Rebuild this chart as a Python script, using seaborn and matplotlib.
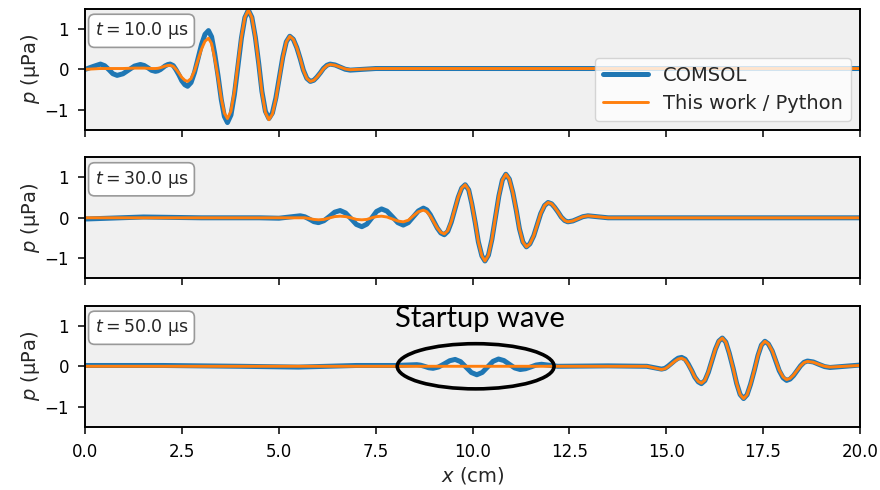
import matplotlib
matplotlib.use("Agg")
import matplotlib.pyplot as plt
import numpy as np
import pandas as pd
import seaborn as sns
from matplotlib.patches import Ellipse

# ---------------- data ----------------
times_us = [10.0, 30.0, 50.0]
series_names = ["COMSOL", "This work / Python"]

x_t10 = [0.0, 0.20, 0.39, 0.50, 0.61, 0.71, 0.82, 0.97, 1.12, 1.27, 1.42, 1.52, 1.62, 1.71, 1.81,
         1.87, 1.94, 2.00, 2.06, 2.13, 2.19,
         2.27, 2.34, 2.42, 2.49, 2.57, 2.64,
         2.73, 2.82, 2.91, 3.00, 3.09, 3.18,
         3.26, 3.34, 3.43, 3.51, 3.59, 3.67,
         3.76, 3.85, 3.94, 4.03, 4.12, 4.21,
         4.30, 4.39, 4.48, 4.56, 4.65, 4.74,
         4.83, 4.92, 5.01, 5.10, 5.19, 5.28,
         5.37, 5.46, 5.55, 5.63, 5.72, 5.81,
         5.90, 5.98, 6.07, 6.15, 6.24, 6.32,
         6.45, 6.58, 6.71, 6.84, 7.5, 20.0]
comsol_t10 = [0.00, 0.07, 0.13, 0.089, -0.01, -0.109, -0.15, -0.111, -0.015, 0.081, 0.12, 0.095, 0.035, -0.025, -0.05,
              -0.038, -0.005, 0.04, 0.085, 0.118, 0.13,
              0.093, -0.008, -0.145, -0.283, -0.383, -0.42,
              -0.328, -0.075, 0.27, 0.615, 0.868, 0.96,
              0.807, 0.39, -0.18, -0.75, -1.167, -1.32,
              -1.133, -0.623, 0.075, 0.773, 1.283, 1.47,
              1.29, 0.798, 0.125, -0.548, -1.04, -1.22,
              -1.083, -0.71, -0.20, 0.31, 0.683, 0.82,
              0.745, 0.54, 0.26, -0.02, -0.225, -0.30,
              -0.271, -0.193, -0.085, 0.023, 0.101, 0.13,
              0.108, 0.055, 0.002, -0.02, 0.02, 0.02]
python_t10 = [0.00, 0.01, 0.02, 0.02, 0.02, 0.02, 0.02, 0.02, 0.025, 0.03, 0.03, 0.03, 0.025, 0.02, 0.02,
              0.025, 0.04, 0.06, 0.08, 0.095, 0.10,
              0.073, 0.0, -0.10, -0.20, -0.273, -0.30,
              -0.228, -0.033, 0.235, 0.503, 0.698, 0.77,
              0.637, 0.273, -0.225, -0.723, -1.087, -1.22,
              -1.04, -0.548, 0.125, 0.798, 1.29, 1.47,
              1.288, 0.79, 0.11, -0.57, -1.068, -1.25,
              -1.111, -0.733, -0.215, 0.303, 0.681, 0.82,
              0.745, 0.54, 0.26, -0.02, -0.225, -0.30,
              -0.272, -0.195, -0.09, 0.015, 0.092, 0.12,
              0.101, 0.055, 0.009, -0.01, 0.02, 0.02]

x_t30 = [0.0, 1.5, 3.0, 4.5, 5.0, 5.55, 5.67, 5.79, 5.90, 6.02, 6.16, 6.30, 6.44, 6.58,
         6.72, 6.86, 7.00, 7.14, 7.27, 7.40, 7.52, 7.65, 7.79, 7.93, 8.07, 8.21, 8.34,
         8.47, 8.60, 8.73,
         8.82, 8.91, 9.00, 9.09, 9.18, 9.27,
         9.36, 9.45, 9.54, 9.63, 9.72, 9.81,
         9.90, 9.98, 10.07, 10.15, 10.24, 10.32,
         10.41, 10.50, 10.59, 10.68, 10.77, 10.86,
         10.95, 11.04, 11.13, 11.21, 11.30, 11.39,
         11.48, 11.58, 11.67, 11.76, 11.86, 11.95,
         12.04, 12.12, 12.21, 12.29, 12.38, 12.46,
         12.59, 12.72, 12.85, 12.98, 13.24, 13.5, 20.0]
comsol_t30 = [-0.03, 0.02, 0.0, 0.0, -0.01, 0.05, 0.025, -0.035, -0.095, -0.12, -0.073, 0.03, 0.14, 0.18,
              0.12, -0.02, -0.165, -0.22, -0.157, 0.0, 0.157, 0.22, 0.165, 0.025, -0.12, -0.18, -0.12,
              0.025, 0.17, 0.24,
              0.196, 0.075, -0.09, -0.255, -0.376, -0.42,
              -0.337, -0.11, 0.20, 0.51, 0.737, 0.82,
              0.693, 0.348, -0.125, -0.598, -0.943, -1.07,
              -0.926, -0.533, 0.005, 0.543, 0.936, 1.08,
              0.959, 0.63, 0.18, -0.27, -0.599, -0.72,
              -0.646, -0.445, -0.17, 0.105, 0.306, 0.38,
              0.348, 0.26, 0.14, 0.02, -0.068, -0.10,
              -0.078, -0.025, 0.028, 0.05, 0.025, 0.0, 0.0]
python_t30 = [0.0, 0.0, 0.0, 0.0, 0.0, 0.0, 0.0, -0.02, -0.04, -0.05, -0.04, -0.005, 0.03, 0.04,
              0.03, 0.0, -0.04, -0.05, -0.04, 0.0, 0.03, 0.04, 0.02, -0.03, -0.08, -0.10, -0.06,
              0.05, 0.15, 0.19,
              0.15, 0.043, -0.105, -0.253, -0.36, -0.40,
              -0.318, -0.095, 0.21, 0.515, 0.738, 0.82,
              0.693, 0.348, -0.125, -0.598, -0.943, -1.07,
              -0.926, -0.533, 0.005, 0.543, 0.936, 1.08,
              0.959, 0.63, 0.18, -0.27, -0.599, -0.72,
              -0.646, -0.445, -0.17, 0.105, 0.306, 0.38,
              0.348, 0.26, 0.14, 0.02, -0.068, -0.10,
              -0.078, -0.025, 0.028, 0.05, 0.025, 0.0, 0.0]

x_t50 = [0.0, 2.0, 4.0, 5.5, 7.0, 8.0, 8.56, 8.66, 8.77, 8.87, 8.98, 9.12, 9.27, 9.41,
         9.55, 9.69, 9.83, 9.97, 10.11, 10.25, 10.39, 10.53, 10.67, 10.81, 10.95, 11.09,
         11.23, 11.37, 11.51, 11.64, 11.78, 12.2, 13.5, 14.5, 14.88,
         14.97, 15.05, 15.14, 15.23, 15.31, 15.40,
         15.49, 15.57, 15.66, 15.74, 15.83, 15.91,
         16.00, 16.09, 16.18, 16.27, 16.36, 16.45,
         16.54, 16.63, 16.73, 16.82, 16.91, 17.0,
         17.09, 17.18, 17.28, 17.37, 17.46, 17.55,
         17.64, 17.74, 17.83, 17.92, 18.02, 18.11,
         18.20, 18.29, 18.38, 18.47, 18.56, 18.65,
         18.80, 18.94, 19.09, 19.23, 20.0]
comsol_t50 = [0.02, 0.02, 0.0, -0.02, 0.02, 0.02, 0.04, 0.027, -0.005, -0.037, -0.05, -0.018, 0.06, 0.138,
              0.17, 0.115, -0.02, -0.155, -0.21, -0.153, -0.015, 0.123, 0.18, 0.142, 0.05, -0.042,
              -0.08, -0.061, -0.015, 0.031, 0.05, 0.0, 0.01, 0.0, -0.07,
              -0.051, 0.003, 0.075, 0.148, 0.201, 0.22,
              0.176, 0.058, -0.105, -0.268, -0.386, -0.43,
              -0.354, -0.148, 0.135, 0.418, 0.624, 0.70,
              0.60, 0.325, -0.05, -0.425, -0.70, -0.80,
              -0.705, -0.445, -0.09, 0.265, 0.525, 0.62,
              0.555, 0.378, 0.135, -0.108, -0.285, -0.35,
              -0.318, -0.23, -0.11, 0.01, 0.098, 0.13,
              0.107, 0.05, -0.007, -0.03, 0.03]
python_t50 = [0.0, 0.0, 0.0, 0.0, 0.0, 0.0, 0.0, 0.0, 0.0, 0.0, 0.0, 0.0, 0.0, 0.0,
              0.0, 0.0, 0.0, 0.0, 0.0, 0.0, 0.0, 0.0, 0.0, 0.0, 0.0, 0.0,
              0.0, 0.0, 0.0, 0.0, 0.0, 0.0, 0.0, 0.0, -0.08,
              -0.061, -0.01, 0.06, 0.13, 0.181, 0.20,
              0.158, 0.045, -0.11, -0.265, -0.378, -0.42,
              -0.345, -0.14, 0.14, 0.42, 0.625, 0.70,
              0.60, 0.325, -0.05, -0.425, -0.70, -0.80,
              -0.705, -0.445, -0.09, 0.265, 0.525, 0.62,
              0.556, 0.383, 0.145, -0.093, -0.266, -0.33,
              -0.30, -0.217, -0.105, 0.008, 0.09, 0.12,
              0.10, 0.05, 0.0, -0.02, 0.02]

x_ticks = [0.0, 2.5, 5.0, 7.5, 10.0, 12.5, 15.0, 17.5, 20.0]
y_ticks = [-1, 0, 1]
annotation_text = "Startup wave"

# ---------------- style ----------------
sns.set_theme(style="ticks")
plt.rcParams['font.family'] = ['DejaVu Sans']
plt.rcParams['mathtext.fontset'] = 'dejavusans'

blue = '#1f77b4'
orange = '#ff7f0e'
bg = '#f0f0f0'

fig, axes = plt.subplots(3, 1, figsize=(8.8, 4.9), dpi=100, sharex=True)
fig.subplots_adjust(left=0.097, right=0.977, top=0.982, bottom=0.129, hspace=0.227)

panels = [(x_t10, comsol_t10, python_t10),
          (x_t30, comsol_t30, python_t30),
          (x_t50, comsol_t50, python_t50)]

for i, (ax, t, (xs, yc, yp)) in enumerate(zip(axes, times_us, panels)):
    assert len(xs) == len(yc) == len(yp), (i, len(xs), len(yc), len(yp))
    ax.set_facecolor(bg)
    df = pd.DataFrame({'x': xs, 'comsol': yc, 'python': yp})
    sns.lineplot(data=df, x='x', y='comsol', ax=ax, color=blue, lw=3.6,
                 label=series_names[0], estimator=None, sort=False,
                 solid_joinstyle='round', solid_capstyle='round')
    sns.lineplot(data=df, x='x', y='python', ax=ax, color=orange, lw=2.1,
                 label=series_names[1], estimator=None, sort=False,
                 solid_joinstyle='round', solid_capstyle='round')
    ax.set_xlim(0, 20)
    ax.set_ylim(-1.5, 1.5)
    ax.set_yticks(y_ticks)
    ax.set_xticks(x_ticks)
    ax.set_ylabel('$p$ (µPa)', fontsize=14, labelpad=2)
    ax.set_xlabel('')
    for sp in ax.spines.values():
        sp.set_linewidth(1.4)
        sp.set_color('black')
    ax.tick_params(axis='both', direction='out', length=4.8, width=1.1,
                   labelsize=12, colors='black')
    ax.tick_params(axis='x', pad=7)
    ax.tick_params(axis='y', pad=7)
    ax.text(0.012, 0.905, f'$t = {t:.1f}$ µs', transform=ax.transAxes,
            ha='left', va='top', fontsize=12.5, zorder=6,
            bbox=dict(boxstyle='round,pad=0.35', fc='white', ec='0.6', lw=1.2))
    if i == 0:
        ax.legend(loc='lower right', fontsize=14, handlelength=2.3,
                  framealpha=0.8, fancybox=True, edgecolor='0.8',
                  borderaxespad=0.45)
    else:
        leg = ax.get_legend()
        if leg is not None:
            leg.remove()

axes[2].set_xticklabels([f'{v:.1f}' for v in x_ticks])
axes[2].set_xlabel('$x$ (cm)', fontsize=14, labelpad=3)

ell = Ellipse((10.08, 0.0), width=4.05, height=1.12, fill=False,
              ec='black', lw=2.6, zorder=5)
axes[2].add_patch(ell)
axes[2].text(10.19, 0.98, annotation_text, ha='center', va='baseline',
             fontsize=21, family=['Lato', 'DejaVu Sans'], color='black', zorder=6)

fig.savefig('out.png', dpi=100)
